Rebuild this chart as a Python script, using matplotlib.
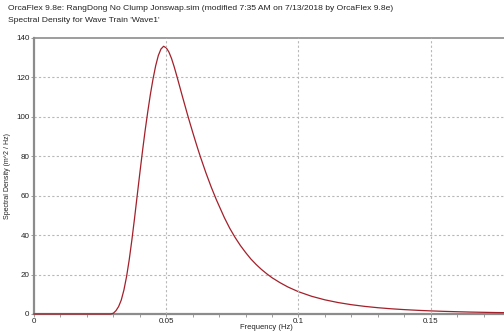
import matplotlib
matplotlib.use("Agg")
import matplotlib.pyplot as plt
from matplotlib.ticker import MultipleLocator

plt.rcParams['font.family'] = ['Liberation Sans', 'DejaVu Sans']

# Wave spectrum: frequency (Hz) and spectral density (m^2/Hz)
freq = [0.000, 0.010, 0.020, 0.029, 0.030, 0.031, 0.032, 0.033, 0.034, 0.035,
        0.036, 0.037, 0.038, 0.039, 0.040, 0.041, 0.042, 0.043, 0.044, 0.045,
        0.046, 0.047, 0.048, 0.049, 0.050, 0.051, 0.052, 0.053, 0.054, 0.055,
        0.056, 0.057, 0.058, 0.059, 0.060, 0.061, 0.062, 0.063, 0.064, 0.065,
        0.066, 0.067, 0.068, 0.069, 0.070, 0.072, 0.074, 0.076, 0.078, 0.080,
        0.082, 0.084, 0.086, 0.088, 0.090, 0.093, 0.096, 0.100, 0.105, 0.110,
        0.115, 0.120, 0.125, 0.130, 0.135, 0.140, 0.145, 0.150, 0.155, 0.160,
        0.165, 0.170, 0.175, 0.180]
density = [0.0, 0.0, 0.0, 0.0, 0.4, 1.7, 3.8, 7.1, 12.2, 19.0,
           27.5, 37.5, 48.4, 59.9, 71.3, 82.4, 92.9, 102.5, 111.4, 119.2,
           125.9, 131.1, 134.4, 135.8, 135.0, 132.9, 129.6, 125.4, 120.7, 115.8,
           110.9, 106.1, 101.3, 96.7, 92.2, 87.8, 83.5, 79.4, 75.5, 71.6,
           68.0, 64.4, 61.1, 57.8, 54.8, 48.8, 43.5, 38.9, 34.8, 31.2,
           27.9, 25.1, 22.6, 20.4, 18.4, 15.9, 13.7, 11.3, 8.97, 7.18,
           5.80, 4.72, 3.87, 3.19, 2.65, 2.22, 1.87, 1.58, 1.34, 1.15,
           0.98, 0.85, 0.73, 0.64]

x_ticks = [0, 0.05, 0.1, 0.15]
x_tick_labels = ["0", "0.05", "0.1", "0.15"]
y_ticks = [0, 20, 40, 60, 80, 100, 120, 140]

title_line1 = ("OrcaFlex 9.8e: RangDong No Clump Jonswap.sim "
               "(modified 7:35 AM on 7/13/2018 by OrcaFlex 9.8e)")
title_line2 = "Spectral Density for Wave Train 'Wave1'"

fig = plt.figure(figsize=(5.04, 3.32), dpi=100)
ax = fig.add_axes([34 / 504, 1 - 314 / 332, 1 - 34 / 504, (314 - 38) / 332])

ax.plot(freq, density, color='#a3202a', lw=0.9, zorder=3, clip_on=False)

ax.set_xlim(0, 0.1777)
ax.set_ylim(0, 140)
ax.set_xticks(x_ticks)
ax.set_xticklabels(x_tick_labels)
ax.set_yticks(y_ticks)
ax.xaxis.set_minor_locator(MultipleLocator(0.01))

grid_kw = dict(color='#b8b8b8', linestyle=(0, (2, 2)), linewidth=0.8)
for yv in y_ticks[1:-1]:
    ax.axhline(yv, zorder=1, **grid_kw)
for xv in x_ticks[1:]:
    ax.axvline(xv, zorder=4, **grid_kw)

for side in ('left', 'bottom', 'top'):
    ax.spines[side].set_color('#8c8c8c')
ax.spines['left'].set_linewidth(1.6)
ax.spines['bottom'].set_linewidth(1.6)
ax.spines['top'].set_linewidth(1.2)
ax.spines['right'].set_visible(False)

ax.tick_params(axis='both', which='major', labelsize=5.8, colors='#8c8c8c',
               labelcolor='#222222', length=2, width=0.6, pad=1.2)
ax.tick_params(axis='x', which='minor', colors='#8c8c8c', length=2, width=0.6)

fig.text(266 / 504, 1 - 327.5 / 332, "Frequency (Hz)", fontsize=5.5,
         color='#222222', ha='center', va='center')
ax.set_ylabel("Spectral Density (m^2 / Hz)", fontsize=5.0, color='#222222',
              labelpad=4)

fig.text(8 / 504, 1 - 8 / 332, title_line1, fontsize=6.1, color='#222222',
         va='center', ha='left')
fig.text(8 / 504, 1 - 20 / 332, title_line2, fontsize=6.1, color='#222222',
         va='center', ha='left')

fig.savefig("out.png", dpi=100)
